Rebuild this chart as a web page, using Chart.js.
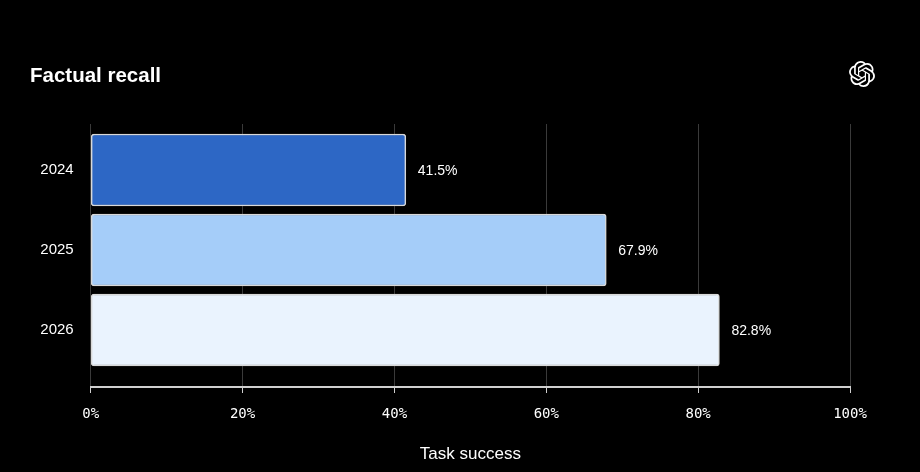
<!DOCTYPE html>
<html>
<head>
<meta charset="utf-8">
<script src="https://cdn.jsdelivr.net/npm/chart.js@4.4.1/dist/chart.umd.min.js"></script>
<style>
  html, body { margin: 0; padding: 0; background: #000; }
  .wrap { position: relative; width: 920px; height: 472px; background: #000; }
  .title { position: absolute; left: 30px; top: 63px; color: #fff; font: bold 20.5px "Liberation Sans", Arial, sans-serif; }
  .logo { position: absolute; left: 849px; top: 61px; width: 26px; height: 26px; }
  canvas { position: absolute; left: 0; top: 0; }
</style>
</head>
<body>
<div class="wrap">
  <canvas id="factualChart" width="920" height="472"></canvas>
  <div class="title">Factual recall</div>
  <svg class="logo" viewBox="0 0 24 24">
    <path fill="#fff" d="M22.2819 9.8211a5.9847 5.9847 0 0 0-.5157-4.9108 6.0462 6.0462 0 0 0-6.5098-2.9A6.0651 6.0651 0 0 0 4.9807 4.1818a5.9847 5.9847 0 0 0-3.9977 2.9 6.0462 6.0462 0 0 0 .7427 7.0966 5.98 5.98 0 0 0 .511 4.9107 6.051 6.051 0 0 0 6.5146 2.9001A5.9847 5.9847 0 0 0 13.2599 24a6.0557 6.0557 0 0 0 5.7718-4.2058 5.9894 5.9894 0 0 0 3.9977-2.9001 6.0557 6.0557 0 0 0-.7475-7.0729zm-9.022 12.6081a4.4755 4.4755 0 0 1-2.8764-1.0408l.1419-.0804 4.7783-2.7582a.7948.7948 0 0 0 .3927-.6813v-6.7369l2.02 1.1686a.071.071 0 0 1 .038.052v5.5826a4.504 4.504 0 0 1-4.4945 4.4944zm-9.6607-4.1254a4.4708 4.4708 0 0 1-.5346-3.0137l.142.0852 4.783 2.7582a.7712.7712 0 0 0 .7806 0l5.8428-3.3685v2.3324a.0804.0804 0 0 1-.0332.0615L9.74 19.9502a4.4992 4.4992 0 0 1-6.1408-1.6464zM2.3408 7.8956a4.485 4.485 0 0 1 2.3655-1.9728V11.6a.7664.7664 0 0 0 .3879.6765l5.8144 3.3543-2.0201 1.1685a.0757.0757 0 0 1-.071 0l-4.8303-2.7865A4.504 4.504 0 0 1 2.3408 7.872zm16.5963 3.8558L13.1038 8.364 15.1192 7.2a.0757.0757 0 0 1 .071 0l4.8303 2.7913a4.4944 4.4944 0 0 1-.6765 8.1042v-5.6772a.79.79 0 0 0-.407-.667zm2.0107-3.0231l-.142-.0852-4.7735-2.7818a.7759.7759 0 0 0-.7854 0L9.409 9.2297V6.8974a.0662.0662 0 0 1 .0284-.0615l4.8303-2.7866a4.4992 4.4992 0 0 1 6.6802 4.66zM8.3065 12.863l-2.02-1.1638a.0804.0804 0 0 1-.038-.0567V6.0742a4.4992 4.4992 0 0 1 7.3757-3.4537l-.142.0805L8.704 5.459a.7948.7948 0 0 0-.3927.6813zm1.0976-2.3654l2.602-1.4998 2.6069 1.4998v2.9994l-2.5974 1.4997-2.6067-1.4997Z"/>
  </svg>
</div>
<script>
const years = ["2024", "2025", "2026"];
const success = [41.5, 67.9, 82.8];
const barColors = ["#2d67c5", "#a5cdf9", "#eaf3fe"];
const xTicks = [0, 20, 40, 60, 80, 100];

// value labels to the right of each bar
const valueLabels = {
  id: "valueLabels",
  afterDatasetsDraw(chart) {
    const ctx = chart.ctx;
    const meta = chart.getDatasetMeta(0);
    ctx.save();
    ctx.fillStyle = "#fff";
    ctx.font = '14px "Liberation Sans", Arial, sans-serif';
    ctx.textAlign = "left";
    ctx.textBaseline = "middle";
    meta.data.forEach((bar, i) => {
      ctx.fillText(success[i].toFixed(1) + "%", bar.x + 12, bar.y + 1);
    });
    ctx.restore();
  }
};

new Chart(document.getElementById("factualChart"), {
  type: "bar",
  data: {
    datasets: [{
      data: success.map((v, i) => ({ x: v, y: i })),
      backgroundColor: barColors,
      borderColor: "#d8d8d8",
      borderWidth: 1.5,
      borderRadius: 3,
      borderSkipped: false,
      barThickness: 72
    }]
  },
  options: {
    indexAxis: "y",
    responsive: false,
    animation: false,
    layout: { padding: { left: 0, right: 70, top: 124, bottom: 0 } },
    plugins: { legend: { display: false }, tooltip: { enabled: false } },
    scales: {
      x: {
        type: "linear",
        min: 0,
        max: 100,
        afterBuildTicks: s => { s.ticks = xTicks.map(v => ({ value: v })); },
        afterFit: s => { s.height = 85; },
        grid: { color: "#3a3a3a", lineWidth: 1, tickLength: 6, tickColor: "#cfcfcf" },
        border: { display: true, color: "#cfcfcf", width: 2 },
        ticks: {
          color: "#fff",
          padding: 13,
          font: { family: '"DejaVu Sans Mono", monospace', size: 14 },
          callback: v => v + "%"
        },
        title: {
          display: true,
          text: "Task success",
          color: "#fff",
          font: { family: '"Liberation Sans", Arial, sans-serif', size: 17 },
          padding: { top: 0, bottom: 7 }
        }
      },
      y: {
        type: "linear",
        reverse: true,
        offset: false,
        min: -0.575,
        max: 2.7125,
        afterBuildTicks: s => { s.ticks = years.map((_, i) => ({ value: i })); },
        afterFit: s => { s.width = 90.7; },
        grid: { display: false, drawTicks: false, offset: false },
        border: { display: false },
        ticks: {
          color: "#fff",
          padding: 17,
          font: { family: '"Liberation Sans", Arial, sans-serif', size: 15 },
          callback: v => years[v]
        }
      }
    }
  },
  plugins: [valueLabels]
});
</script>
</body>
</html>
